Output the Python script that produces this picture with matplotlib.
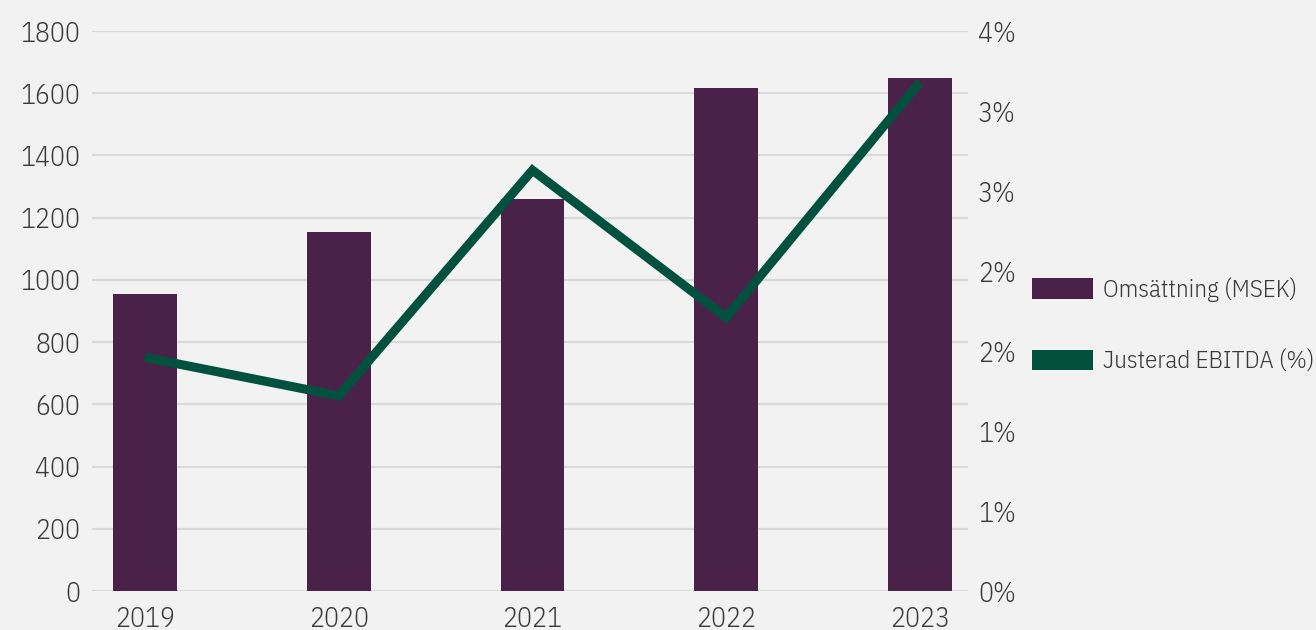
import math
import matplotlib
matplotlib.use("Agg")
import matplotlib.pyplot as plt
from matplotlib.patches import Patch
from matplotlib.ticker import FuncFormatter, MultipleLocator

years = ["2019", "2020", "2021", "2022", "2023"]
revenue = [955, 1155, 1260, 1617, 1650]          # Omsättning (MSEK)
ebitda = [1.46, 1.22, 2.63, 1.71, 3.18]          # Justerad EBITDA (%)
legend_labels = ["Omsättning (MSEK)", "Justerad EBITDA (%)"]

BG = "#f2f2f2"
BAR = "#4a2249"
LINE = "#02513f"
TXT = "#3a3a3a"
GRID = "#d9d9d9"
FONT = ["IBM Plex Sans Condensed", "DejaVu Sans"]
FS = 20
FS_LEG = 18

plt.rcParams["font.family"] = FONT
plt.rcParams["font.weight"] = 300

W, H = 1316, 630
fig = plt.figure(figsize=(W / 100, H / 100), dpi=100, facecolor=BG)
left, right, top, bottom = 92, 968, 31, 591
ax = fig.add_axes([left / W, 1 - bottom / H, (right - left) / W, (bottom - top) / H])
ax.set_facecolor(BG)

x = list(range(len(years)))
ax.bar(x, revenue, width=0.33, color=BAR, zorder=3)
ax.set_ylim(0, 1800)
ax.yaxis.set_major_locator(MultipleLocator(200))
ax.set_xlim(-0.2735, 4.248)
ax.set_xticks(x)
ax.set_xticklabels(years)
ax.grid(axis="y", color=GRID, linewidth=1.6, zorder=0)
ax.set_axisbelow(True)
for s in ax.spines.values():
    s.set_visible(False)
ax.tick_params(axis="both", length=0, labelsize=FS, labelcolor=TXT)
ax.tick_params(axis="y", pad=8.6)
ax.tick_params(axis="x", pad=10.5)

ax2 = ax.twinx()
ax2.plot(x, ebitda, color=LINE, linewidth=6.5, solid_joinstyle="miter",
         solid_capstyle="butt", zorder=4)
ax2.set_ylim(0, 3.5)
ax2.yaxis.set_major_locator(MultipleLocator(0.5))
ax2.yaxis.set_major_formatter(FuncFormatter(lambda v, p: f"{int(math.floor(v + 0.5 + 1e-9))}%"))
for s in ax2.spines.values():
    s.set_visible(False)
ax2.tick_params(axis="y", length=0, labelsize=FS, labelcolor=TXT, pad=7.2)

handles = [Patch(facecolor=BAR), Patch(facecolor=LINE)]
fig.legend(handles, legend_labels, loc="center left",
           bbox_to_anchor=(1032 / W, 1 - 325.5 / H), frameon=False,
           prop={"family": FONT, "weight": 300, "size": FS_LEG}, labelcolor=TXT,
           handlelength=2.44, handleheight=0.88,
           handletextpad=0.4, labelspacing=1.9, borderpad=0, borderaxespad=0)

fig.savefig("out.png", dpi=100, facecolor=BG)
